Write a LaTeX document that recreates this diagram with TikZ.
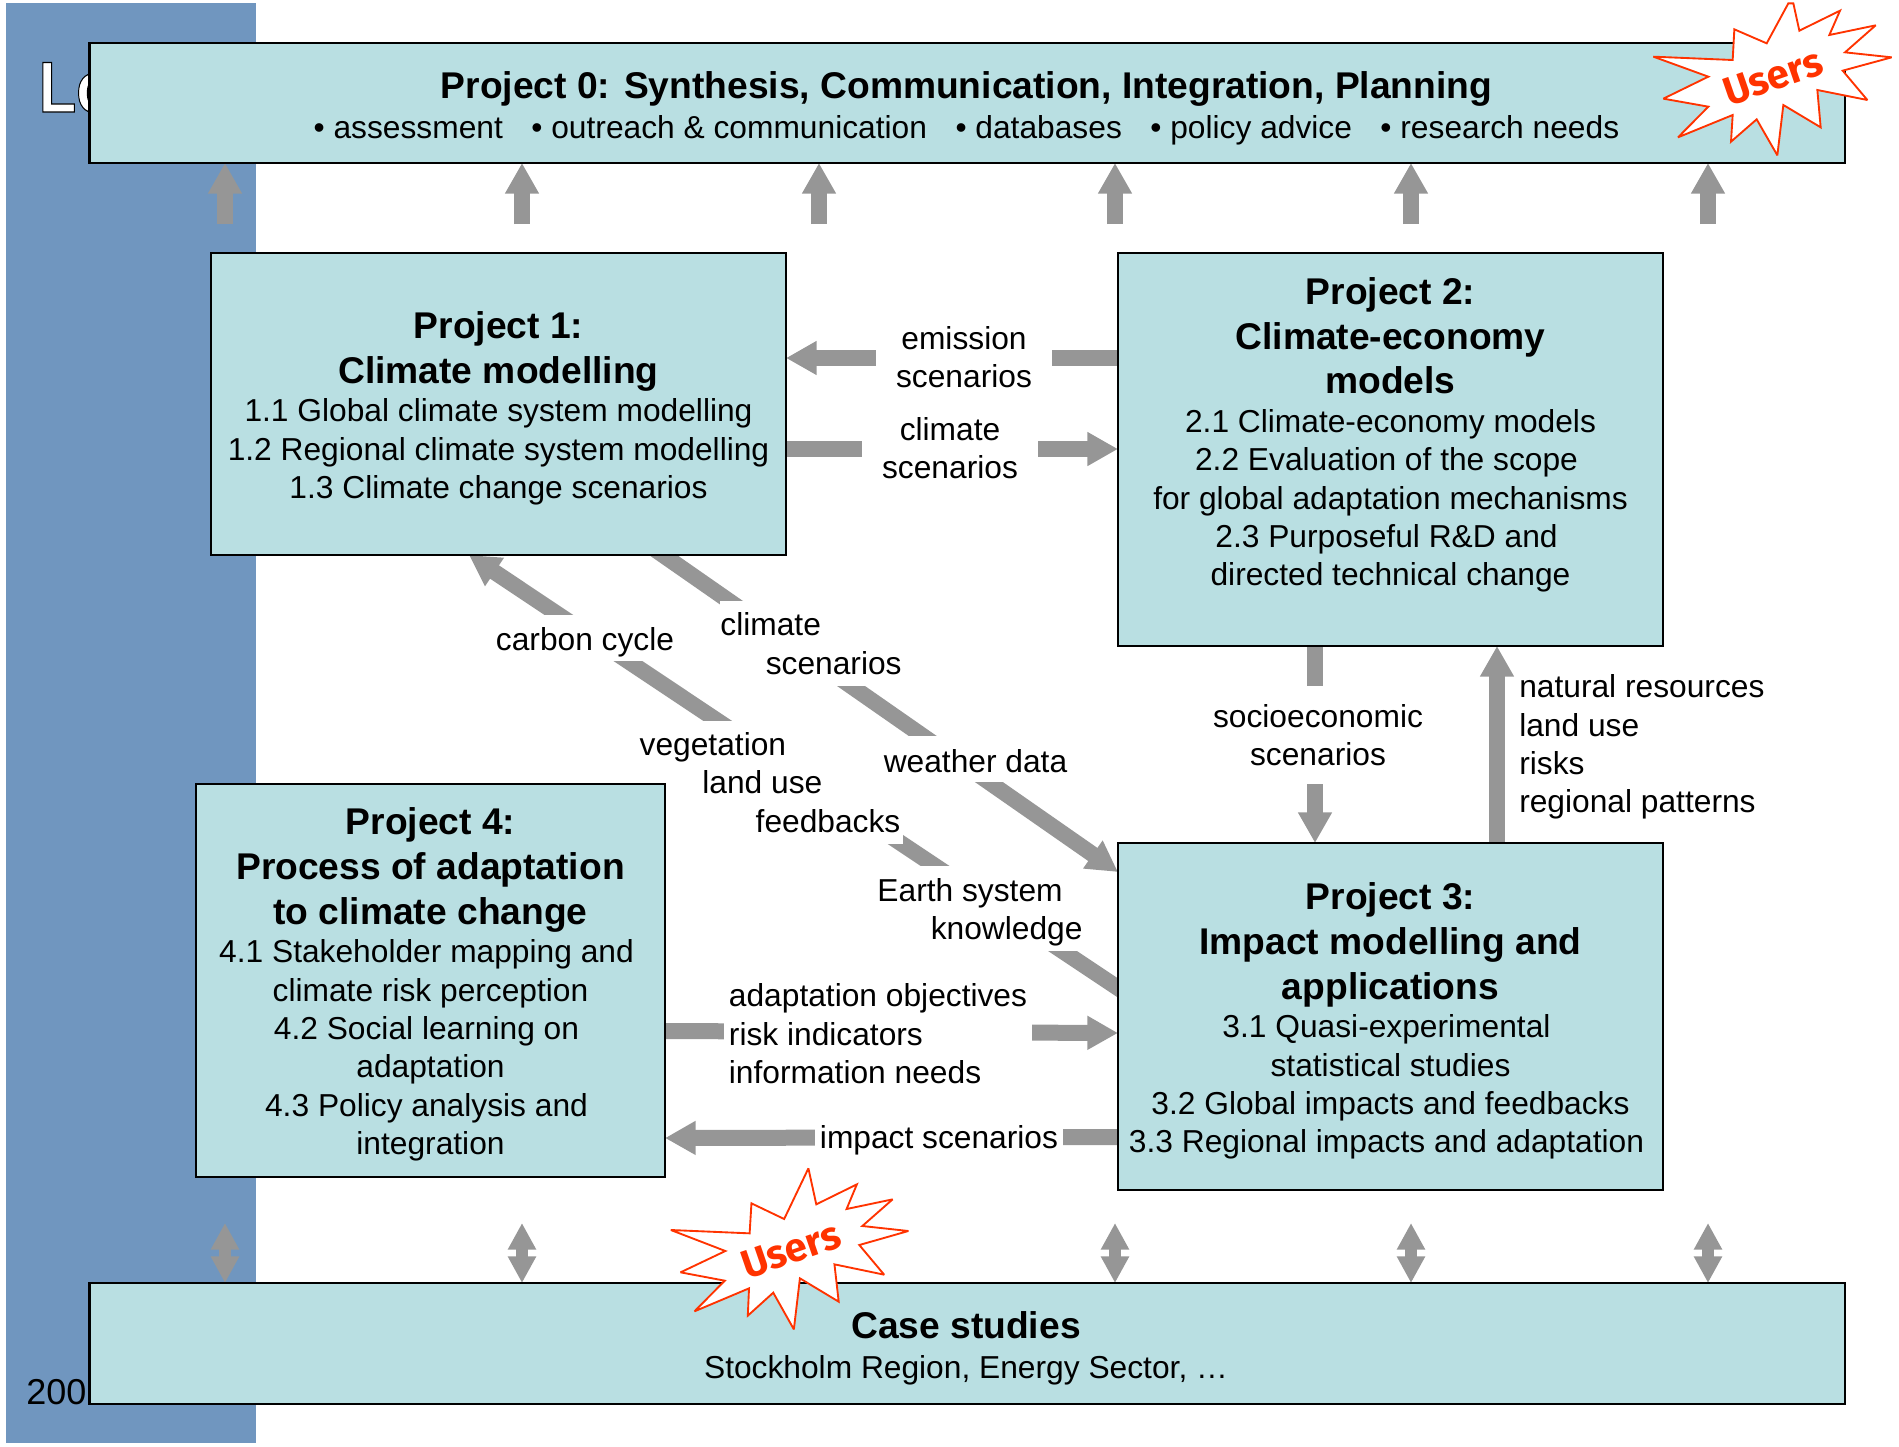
\documentclass[tikz,border=0pt]{standalone}
\usepackage{graphicx}
\usepackage{fontspec}
\setmainfont{Liberation Sans}
\newfontfamily\lofont[FakeBold=1.6]{Liberation Sans Bold}
\newfontfamily\usersfont{Fira Sans Bold}
\usetikzlibrary{arrows.meta,backgrounds}
\pgfdeclarelayer{under}
\pgfdeclarelayer{links}
\pgfsetlayers{under,links,main}
\definecolor{boxfill}{HTML}{B9DFE2}
\definecolor{sideblue}{HTML}{7096BF}
\definecolor{arrowgray}{HTML}{969696}
\definecolor{starred}{HTML}{FF3300}
\newcommand\tb[1]{{\bfseries\fontsize{27.9}{28.8}\selectfont #1}}
\newcommand\nudge{\kern6pt\relax}
\tikzset{
  x=0.75pt,y=-0.75pt,
  body/.style={font=\fontsize{23.8}{28.8}\selectfont},
  pbox/.style 2 args={draw=black,line width=1.9pt,fill=boxfill,outer sep=0pt,inner sep=0pt,minimum width=#1,minimum height=#2},
  ptext/.style={body,align=center,inner sep=0pt},
  blockarrow/.style={draw=arrowgray,line width=12pt,-{Triangle[width=24pt,length=23pt]}},
  twoway/.style={draw=arrowgray,line width=9pt,{Triangle[width=20pt,length=20pt]}-{Triangle[width=20pt,length=20pt]}},
  lab/.style={body,fill=white,inner sep=0pt,align=center},
  leftlab/.style={body,fill=white,inner sep=0pt,align=left},
  star/.style={draw=starred,fill=white,line width=1.4pt,line join=miter,miter limit=3},
  userstext/.style={text=starred,font=\usersfont\fontsize{30}{30}\selectfont,inner sep=0pt}
}
\begin{document}
\begin{tikzpicture}
\useasboundingbox (0,0) rectangle (1899,1446);
% boxes
\node[pbox={1316.6pt}{90pt}] (p0) at (967.25,103) {};
\node[ptext] (p0t) at (966.5,108.5) {\tb{Project 0: Synthesis, Communication, Integration, Planning}\\[0.8pt]
  • assessment\hspace{21.4pt}• outreach \& communication\hspace{21.4pt}• databases\hspace{21.4pt}• policy advice\hspace{21.4pt}• research needs};
\node[pbox={431.25pt}{226.5pt}] (p1) at (498.5,404) {};
\node[ptext] (p1t) at (498.5,408.5) {\tb{Project 1:}\\[4.8pt]\tb{Climate modelling}\\[0pt]
  1.1 Global climate system modelling\\1.2 Regional climate system modelling\\1.3 Climate change scenarios};
\node[pbox={408.75pt}{294.75pt}] (p2) at (1390.5,449.5) {};
\node[ptext] (p2t) at (1390.5,435) {\tb{Project 2:}\\[4.8pt]\tb{Climate-economy}\\[4.8pt]\tb{models}\\[0pt]
  2.1 Climate-economy models\\2.2 Evaluation of the scope\nudge\\for global adaptation mechanisms\\2.3 Purposeful R\&D and\nudge\\directed technical change};
\node[pbox={408.75pt}{260.25pt}] (p3) at (1390.5,1016.5) {};
\node[ptext] (p3t) at (1390.5,1021) {\tb{Project 3:}\\[4.8pt]\tb{Impact modelling and}\\[4.8pt]\tb{applications}\\[0pt]
  3.1 Quasi-experimental\nudge\\statistical studies\\3.2 Global impacts and feedbacks\\3.3 Regional impacts and adaptation\nudge};
\node[pbox={351.75pt}{294.75pt}] (p4) at (430.5,980.5) {};
\node[ptext] (p4t) at (430.5,984.5) {\tb{Project 4:}\\[4.8pt]\tb{Process of adaptation}\\[4.8pt]\tb{to climate change}\\[0pt]
  4.1 Stakeholder mapping and\nudge\\climate risk perception\\4.2 Social learning on\nudge\\adaptation\\4.3 Policy analysis and\nudge\\integration};
\node[pbox={1316.6pt}{90.75pt}] (p5) at (967.25,1343.5) {};
\node[ptext] (p5t) at (966,1348) {\tb{Case studies}\\[1pt]Stockholm Region, Energy Sector, …};
% side panel behind everything
\begin{pgfonlayer}{under}
\fill[sideblue] (6,3) rectangle (256,1443);
\node[inner sep=0pt,anchor=base west,text=white] (lo) at (38.5,112) {\scalebox{0.85}[1]{\special{pdf:code 0 0 0 RG}\lofont\fontsize{54}{54}\selectfont Lo}};
\node[inner sep=0pt,anchor=base west] (yr) at (26,1404) {\fontsize{27}{27}\selectfont 200};
\end{pgfonlayer}
\begin{pgfonlayer}{links}
% upward arrows to Project 0
\foreach \n/\xx in {1/225,2/522,3/819,4/1115,5/1411,6/1708}{
  \coordinate (u\n) at (\xx,224);
  \draw[blockarrow] (u\n) -- (u\n |- p0.south);
}
% two-way arrows to Case studies
\foreach \n/\xx in {1/225,2/522,4/1115,5/1411,6/1708}{
  \coordinate (d\n) at (\xx,1223);
  \draw[twoway] (d\n) -- (d\n |- p5.north);
}
% horizontal and vertical links (labels with white fill sit on the arrows)
\draw[blockarrow] (p2.west |- 0,358) -- (p1.east |- 0,358);
\node[lab,minimum width=132pt,minimum height=64pt] (lemis) at (964,357) {emission\\scenarios};
\draw[blockarrow] (p1.east |- 0,449) -- (p2.west |- 0,449);
\node[lab,minimum width=132pt,minimum height=64pt] (lclim) at (950,448) {climate\\scenarios};
\draw[blockarrow] (p2.south -| 1315,0) -- (p3.north -| 1315,0);
\node[lab,minimum width=158pt,minimum height=73.5pt] (lsocio) at (1318,735) {socioeconomic\\scenarios};
\draw[blockarrow] (p3.north -| 1497,0) -- (p2.south -| 1497,0);
\node[body,align=left,inner sep=0pt,anchor=west] (lnat) at (1519,747) {natural resources\\land use\\risks\\regional patterns};
\draw[blockarrow] (p4.east |- 0,1031) -- (p3.west |- 0,1033);
\node[leftlab,minimum width=231pt,minimum height=86pt] (ladapt) at (878,1034) {adaptation objectives\\risk indicators\\information needs};
\draw[blockarrow] (p3.west |- 0,1137) -- (p4.east |- 0,1138);
\node[lab,minimum width=186pt,minimum height=34.5pt] (limpact) at (939,1137) {\rule{0pt}{22pt}impact scenarios};
% carbon-cycle link
\draw[blockarrow,shorten <=-20pt] (p3.west |- 0,988) -- (p1.south -| 469,0);
\node[lab,minimum width=142pt,minimum height=34.5pt] (lcarbon) at (585,638) {\rule{0pt}{24pt}carbon cycle};
\node[leftlab,minimum width=200pt,minimum height=92pt] (lveg) at (770,782.5) {vegetation\\\hspace*{47pt}land use\\\hspace*{87pt}feedbacks};
\node[leftlab,minimum width=160pt,minimum height=64pt] (learth) at (980,908.5) {\rule{0pt}{23pt}Earth system\\\hspace*{40pt}knowledge};
% climate link
\draw[blockarrow,shorten <=-20pt] (p1.south -| 663,0) -- (p3.west |- 0,872);
\node[leftlab,minimum width=136.5pt,minimum height=64pt] (lclim2) at (811,643.5) {climate\\\hspace*{34pt}scenarios};
\node[lab,minimum width=139pt,minimum height=34.5pt] (lweather) at (975.5,759) {\rule{0pt}{20pt}weather data};
\end{pgfonlayer}
% stars
\begin{scope}[shift={(1600,0)},x=0.25pt,y=-0.25pt]
\draw[star] (160,170)--(398,180)--(403,88)--(500,130)--(565,10)--(580,10)--(598,92)--(720,32)--(688,105)--(827,76)--(735,157)--(875,172)--(728,212)--(802,300)--(652,270)--(662,382)--(550,315)--(532,466)--(470,358)--(393,425)--(398,345)--(234,412)--(325,320)--(190,296)--(325,230)--cycle;
\end{scope}
\node[userstext,rotate=19] (users1) at (1773,77) {Users};
\begin{scope}[shift={(0,1150)},x=0.4545pt,y=-0.25pt]
\draw[star] (1107,240)--(1237,250)--(1240,160)--(1294,207)--(1334,55)--(1347,163)--(1414,103)--(1397,177)--(1473,148)--(1423,228)--(1499,243)--(1418,285)--(1459,374)--(1377,343)--(1384,455)--(1320,385)--(1310,538)--(1276,428)--(1234,497)--(1236,415)--(1146,484)--(1196,392)--(1123,367)--(1197,303)--cycle;
\end{scope}
\node[userstext,rotate=19] (users2) at (791,1250) {Users};
\end{tikzpicture}
\end{document}
